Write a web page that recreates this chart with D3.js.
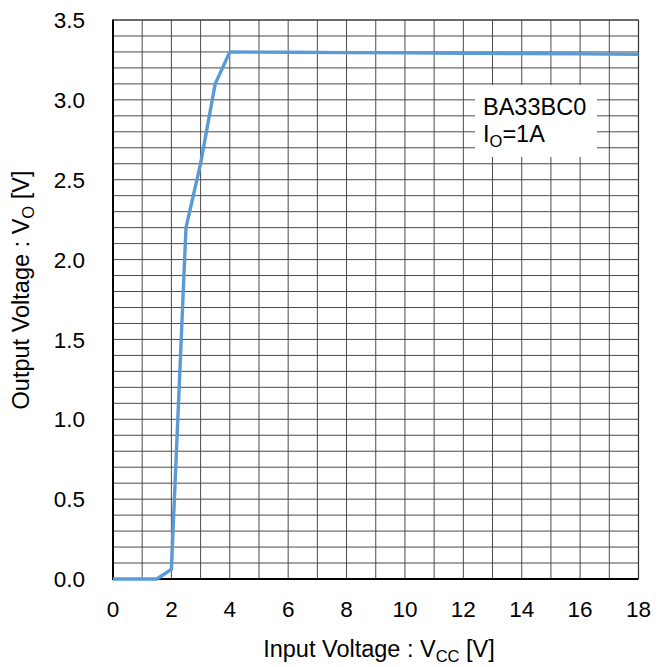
<!DOCTYPE html>
<html><head><meta charset="utf-8">
<script src="https://cdn.jsdelivr.net/npm/d3@7"></script>
<style>body{margin:0;background:#fff}svg{display:block;font-family:"Liberation Sans",Arial,sans-serif}</style>
</head><body>
<svg id="c" width="664" height="667"></svg>
<script>
const vcc = [0, 1, 1.5, 2, 2.5, 3, 3.5, 4, 6, 8, 10, 12, 14, 16, 18];
const vo  = [0, 0, 0, 0.06, 2.2, 2.6, 3.1, 3.3, 3.298, 3.296, 3.294, 3.292, 3.29, 3.288, 3.285];
const xTicks = [0, 2, 4, 6, 8, 10, 12, 14, 16, 18];
const yTicks = [0, 0.5, 1.0, 1.5, 2.0, 2.5, 3.0, 3.5];
const legendLines = ["BA33BC0", "IO=1A"];

const FS = 22.5, FT = 23.5, SUB = 16.5;
const svg = d3.select("#c");
const L = 113, R = 638.5, T = 20, B = 579;
const x = d3.scaleLinear().domain([0, 18]).range([L, R]);
const y = d3.scaleLinear().domain([0, 3.5]).range([B, T]);

const g = svg.append("g");
// grid
g.selectAll(".vg").data(d3.range(1, 19)).enter().append("line")
  .attr("x1", d => x(d)).attr("x2", d => x(d)).attr("y1", T).attr("y2", B)
  .attr("stroke", "#4a4a4a").attr("stroke-width", 1);
g.selectAll(".hg").data(d3.range(1, 36).map(i => i / 10)).enter().append("line")
  .attr("x1", L).attr("x2", R).attr("y1", d => y(d)).attr("y2", d => y(d))
  .attr("stroke", "#4a4a4a").attr("stroke-width", 1);

// legend box
svg.append("rect").attr("x", 475).attr("y", 85).attr("width", 122).attr("height", 72).attr("fill", "#fff");
svg.append("text").attr("x", 483).attr("y", 115).attr("font-size", FT).attr("fill", "#000").text(legendLines[0]);
const t2 = svg.append("text").attr("x", 483).attr("y", 142).attr("font-size", FT).attr("fill", "#000");
t2.append("tspan").text("I");
t2.append("tspan").attr("font-size", SUB).attr("dy", 5).text("O");
t2.append("tspan").attr("dy", -5).text("=1A");

// axes lines
svg.append("line").attr("x1", L).attr("x2", L).attr("y1", T - 0.5).attr("y2", B + 1).attr("stroke", "#000").attr("stroke-width", 2);
svg.append("line").attr("x1", L).attr("x2", R).attr("y1", B).attr("y2", B).attr("stroke", "#000").attr("stroke-width", 2);
svg.append("line").attr("x1", L).attr("x2", R).attr("y1", T).attr("y2", T).attr("stroke", "#333").attr("stroke-width", 1.2);
svg.append("line").attr("x1", R).attr("x2", R).attr("y1", T).attr("y2", B).attr("stroke", "#333").attr("stroke-width", 1.2);

// data line
const line = d3.line().x((d, i) => x(vcc[i])).y(d => y(d));
svg.append("path").datum(vo).attr("d", line).attr("fill", "none")
  .attr("stroke", "#5B9BD5").attr("stroke-width", 3.4).attr("stroke-linejoin", "round");

// tick labels
svg.selectAll(".xt").data(xTicks).enter().append("text")
  .attr("x", d => x(d)).attr("y", 617).attr("text-anchor", "middle")
  .attr("font-size", FS).attr("fill", "#000").text(d => d);
svg.selectAll(".yt").data(yTicks).enter().append("text")
  .attr("x", 85).attr("y", d => y(d)).attr("dy", "0.36em").attr("text-anchor", "end")
  .attr("font-size", FS).attr("fill", "#000").text(d => d.toFixed(1));

// axis titles
const xt = svg.append("text").attr("x", 379).attr("y", 657).attr("text-anchor", "middle").attr("font-size", FT).attr("fill", "#000");
xt.append("tspan").text("Input Voltage : V");
xt.append("tspan").attr("font-size", SUB).attr("dy", 5).text("CC");
xt.append("tspan").attr("dy", -5).text(" [V]");

const yt = svg.append("text").attr("transform", "translate(29,290) rotate(-90)").attr("text-anchor", "middle").attr("font-size", FT).attr("fill", "#000");
yt.append("tspan").text("Output Voltage : V");
yt.append("tspan").attr("font-size", SUB).attr("dy", 5).text("O");
yt.append("tspan").attr("dy", -5).text(" [V]");
</script>
</body></html>
